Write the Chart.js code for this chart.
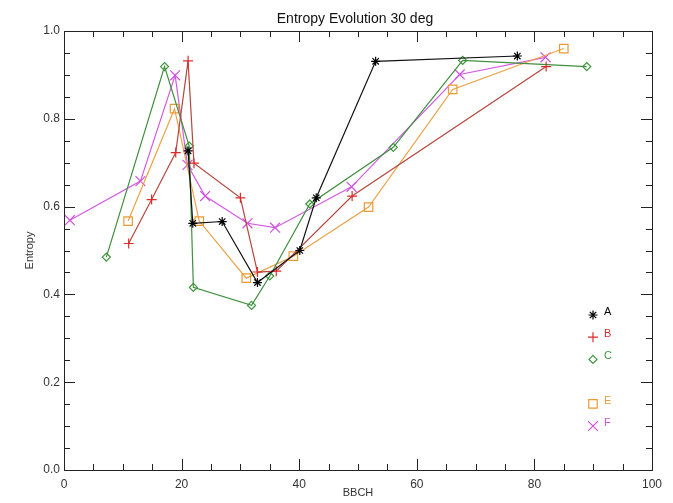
<!DOCTYPE html>
<html>
<head>
<meta charset="utf-8">
<script src="https://cdn.jsdelivr.net/npm/chart.js@4.4.1/dist/chart.umd.min.js"></script>
<style>
  html, body { margin: 0; padding: 0; background: #fff; }
  #wrap { width: 673px; height: 503px; }
</style>
</head>
<body>
<div id="wrap"><canvas id="chart" width="673" height="503"></canvas></div>
<script>
// データ (BBCH, Entropy)
const chartTitle = "Entropy Evolution 30 deg";
const seriesNames = ["A", "B", "C", "E", "F"];
const legendRows = [0, 1, 2, 4, 5]; // D は空き

const aX = [21.1, 21.9, 26.9, 32.9, 40.1, 42.9, 53.0, 77.1];
const aY = [0.727, 0.562, 0.566, 0.427, 0.500, 0.620, 0.931, 0.943];

const bX = [11.0, 14.9, 19.0, 21.1, 22.1, 30.0, 32.9, 36.1, 49.0, 82.0];
const bY = [0.516, 0.616, 0.723, 0.932, 0.699, 0.620, 0.451, 0.453, 0.624, 0.919];

const cX = [7.2, 17.1, 21.3, 22.0, 31.9, 35.0, 41.8, 56.0, 67.8, 88.9];
const cY = [0.485, 0.919, 0.738, 0.416, 0.375, 0.442, 0.606, 0.735, 0.933, 0.919];

const eX = [10.9, 18.8, 23.0, 31.0, 39.0, 51.8, 66.1, 85.0];
const eY = [0.567, 0.823, 0.567, 0.437, 0.487, 0.599, 0.867, 0.960];

const fX = [1.0, 13.0, 18.9, 21.0, 24.0, 31.2, 35.9, 48.9, 67.3, 81.9];
const fY = [0.569, 0.658, 0.899, 0.695, 0.624, 0.562, 0.552, 0.645, 0.901, 0.940];

const xTicks = [0, 20, 40, 60, 80, 100];
const yTicks = [0.0, 0.2, 0.4, 0.6, 0.8, 1.0];

// 見た目
const lineColors = ["#111111", "#b5473f", "#3f8f3f", "#eba246", "#d35ae0"];
const markColors = ["#000000", "#e02a2a", "#3c963c", "#eb9a35", "#d050e0"];
const markStyles = ["star", "cross", "rectRot", "rect", "crossRot"];
const markRadius = [4.5, 5, 4, 6, 7];

const xs = [aX, bX, cX, eX, fX];
const ys = [aY, bY, cY, eY, fY];

const toPoints = (x, y) => x.map((v, i) => ({ x: v, y: y[i] }));

const datasets = seriesNames.map((name, i) => ({
  label: name,
  data: toPoints(xs[i], ys[i]),
  showLine: true,
  borderColor: lineColors[i],
  borderWidth: 1.2,
  tension: 0,
  pointStyle: markStyles[i],
  pointRadius: markRadius[i],
  pointHoverRadius: markRadius[i],
  pointBorderColor: markColors[i],
  pointBackgroundColor: "rgba(0,0,0,0)",
  pointBorderWidth: 1.2
}));

// 凡例マーク
function drawMark(ctx, style, r, x, y) {
  const d = r * Math.SQRT1_2;
  if (style === "star") {
    ctx.moveTo(x - r, y); ctx.lineTo(x + r, y);
    ctx.moveTo(x, y - r); ctx.lineTo(x, y + r);
    ctx.moveTo(x - d, y - d); ctx.lineTo(x + d, y + d);
    ctx.moveTo(x - d, y + d); ctx.lineTo(x + d, y - d);
  } else if (style === "cross") {
    ctx.moveTo(x - r, y); ctx.lineTo(x + r, y);
    ctx.moveTo(x, y - r); ctx.lineTo(x, y + r);
  } else if (style === "crossRot") {
    ctx.moveTo(x - d, y - d); ctx.lineTo(x + d, y + d);
    ctx.moveTo(x - d, y + d); ctx.lineTo(x + d, y - d);
  } else if (style === "rectRot") {
    ctx.moveTo(x, y - r); ctx.lineTo(x + r, y); ctx.lineTo(x, y + r); ctx.lineTo(x - r, y); ctx.closePath();
  } else {
    ctx.rect(x - d, y - d, 2 * d, 2 * d);
  }
}

// 枠・内向き目盛り・タイトル・凡例
const idlFrame = {
  id: "idlFrame",
  afterDatasetsDraw(chart) {
    const { ctx, chartArea: a, scales } = chart;
    ctx.save();
    ctx.strokeStyle = "#222";
    ctx.lineWidth = 1;
    ctx.strokeRect(a.left + 0.5, a.top + 0.5, a.right - a.left, a.bottom - a.top);

    ctx.beginPath();
    for (let v = 0; v <= 100; v += 5) {
      const px = Math.round(scales.x.getPixelForValue(v)) + 0.5;
      const len = v % 20 === 0 ? 11 : 6;
      ctx.moveTo(px, a.bottom); ctx.lineTo(px, a.bottom - len);
      ctx.moveTo(px, a.top); ctx.lineTo(px, a.top + len);
    }
    for (let k = 0; k <= 20; k++) {
      const v = k * 0.05;
      const py = Math.round(scales.y.getPixelForValue(v)) + 0.5;
      const len = k % 4 === 0 ? 11 : 6;
      ctx.moveTo(a.left, py); ctx.lineTo(a.left + len, py);
      ctx.moveTo(a.right, py); ctx.lineTo(a.right - len, py);
    }
    ctx.stroke();

    // タイトル
    ctx.fillStyle = "#111";
    ctx.font = "14px 'Liberation Sans', Arial, sans-serif";
    ctx.textAlign = "center";
    ctx.textBaseline = "middle";
    ctx.fillText(chartTitle, (a.left + a.right) / 2 - 3, 19);

    // 凡例
    const lx = 593, ly0 = 315, step = 22.2;
    ctx.font = "11px 'Liberation Sans', Arial, sans-serif";
    ctx.textAlign = "left";
    chart.data.datasets.forEach((ds, i) => {
      const y = ly0 + legendRows[i] * step;
      ctx.strokeStyle = markColors[i];
      ctx.lineWidth = 1.2;
      ctx.beginPath();
      drawMark(ctx, markStyles[i], markRadius[i], lx, y);
      ctx.stroke();
      ctx.fillStyle = markColors[i];
      ctx.fillText(ds.label, lx + 11, y - 3);
    });
    ctx.restore();
  }
};

new Chart(document.getElementById("chart"), {
  type: "scatter",
  data: { datasets },
  options: {
    responsive: false,
    animation: false,
    devicePixelRatio: 1,
    layout: { padding: { top: 31, right: 21, left: 0, bottom: 0 } },
    plugins: {
      legend: { display: false },
      title: { display: false },
      tooltip: { enabled: false }
    },
    scales: {
      x: {
        type: "linear",
        min: 0,
        max: 100,
        afterBuildTicks: (s) => { s.ticks = xTicks.map(v => ({ value: v })); },
        afterFit: (s) => { s.height = 33; },
        grid: { display: false, drawTicks: false },
        border: { display: false },
        ticks: {
          padding: 7,
          color: "#333",
          font: { family: "'Liberation Sans', Arial, sans-serif", size: 12 },
          maxRotation: 0
        },
        title: {
          display: true,
          text: "BBCH",
          color: "#333",
          font: { family: "'Liberation Sans', Arial, sans-serif", size: 11 },
          padding: { top: 0, bottom: 3.5 }
        }
      },
      y: {
        type: "linear",
        min: 0,
        max: 1,
        afterBuildTicks: (s) => { s.ticks = yTicks.map(v => ({ value: v })); },
        afterFit: (s) => { s.width = 64; },
        grid: { display: false, drawTicks: false },
        border: { display: false },
        ticks: {
          padding: 4,
          color: "#333",
          font: { family: "'Liberation Sans', Arial, sans-serif", size: 12 },
          callback: (v) => Number(v).toFixed(1)
        },
        title: {
          display: true,
          text: "Entropy",
          color: "#333",
          font: { family: "'Liberation Sans', Arial, sans-serif", size: 11 },
          padding: { top: 23, bottom: 0 }
        }
      }
    }
  },
  plugins: [idlFrame]
});
</script>
</body>
</html>
